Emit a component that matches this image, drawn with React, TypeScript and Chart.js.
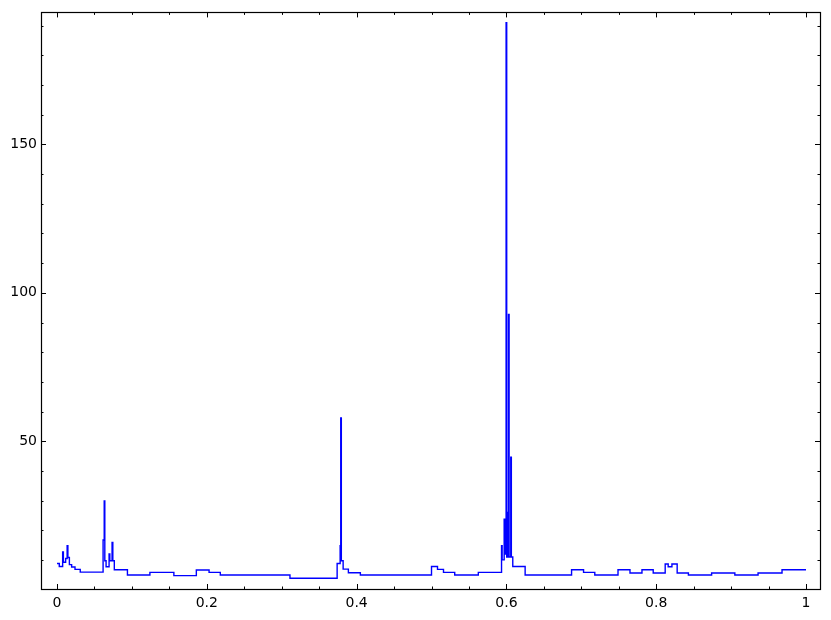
import React, { useEffect, useRef } from "react";
import { Chart, registerables } from "chart.js";

Chart.register(...registerables);

// Bin edges (x) and the step value of each bin
const binEdges: number[] = [
  0, 0.003, 0.0075, 0.0085, 0.0115, 0.0135, 0.0145, 0.0165, 0.0195, 0.024, 0.031,
  0.0615, 0.063, 0.0638, 0.0655, 0.0695, 0.0705, 0.0735, 0.0745, 0.0765, 0.094,
  0.124, 0.156, 0.186, 0.203, 0.218, 0.311, 0.374, 0.378, 0.3788, 0.3796,
  0.382, 0.389, 0.405, 0.5, 0.508, 0.516, 0.531, 0.5625, 0.5935, 0.5943,
  0.597, 0.5978, 0.5996, 0.6004, 0.602, 0.6028, 0.6036, 0.6058, 0.6066, 0.6085,
  0.625, 0.687, 0.703, 0.718, 0.749, 0.765, 0.781, 0.796, 0.812, 0.816,
  0.821, 0.828, 0.843, 0.874, 0.905, 0.936, 0.968, 1.0,
];
const binValues: number[] = [
  8.8, 7.8, 12.7, 9.2, 10.5, 14.8, 10.8, 8.4, 7.6, 6.8,
  5.9, 16.7, 29.9, 9.7, 7.7, 12.0, 9.7, 15.9, 9.7, 6.7,
  4.9, 5.8, 4.7, 6.6, 5.8, 4.9, 3.8, 8.8, 14.8, 57.8,
  9.7, 6.9, 5.7, 4.9, 7.8, 6.8, 5.8, 4.9, 5.8, 14.8,
  10.0, 23.7, 12.0, 191.0, 11.0, 26.0, 92.7, 11.0, 44.6, 11.0,
  7.8, 4.9, 6.7, 5.8, 4.9, 6.7, 5.6, 6.7, 5.6, 8.6,
  7.7, 8.6, 5.6, 4.9, 5.6, 4.9, 5.6, 6.7,
];

const xTickValues: number[] = [0, 0.2, 0.4, 0.6, 0.8, 1];
const xTickLabels: string[] = ["0", "0.2", "0.4", "0.6", "0.8", "1"];
const yTickValues: number[] = [50, 100, 150];
const yTickLabels: string[] = ["50", "100", "150"];
const xMinorStep = 0.05;
const yMinorStep = 10;

const X_MIN = -0.0214;
const X_MAX = 1.0187;
const Y_MIN = 0.2;
const Y_MAX = 194.5;

const FONT = { family: "'DejaVu Sans', sans-serif", size: 14 };

const boxTicksPlugin = {
  id: "boxTicks",
  afterDatasetsDraw(chart: any) {
    const { ctx, chartArea: a, scales } = chart;
    const xs = scales.x;
    const ys = scales.y;
    ctx.save();
    ctx.strokeStyle = "#000";
    ctx.lineWidth = 1;
    const majorLen = 5;
    const minorLen = 2.5;
    const nx = Math.round((X_MAX - X_MIN) / xMinorStep) + 2;
    for (let i = -2; i < nx; i++) {
      const v = +(i * xMinorStep).toFixed(4);
      if (v < X_MIN || v > X_MAX) continue;
      const isMajor = xTickValues.some((t) => Math.abs(t - v) < 1e-6);
      const len = isMajor ? majorLen : minorLen;
      const px = Math.round(xs.getPixelForValue(v)) + 0.5;
      ctx.beginPath();
      ctx.moveTo(px, a.bottom);
      ctx.lineTo(px, a.bottom - len);
      ctx.moveTo(px, a.top);
      ctx.lineTo(px, a.top + len);
      ctx.stroke();
    }
    for (let v = yMinorStep; v <= Y_MAX; v += yMinorStep) {
      const isMajor = yTickValues.includes(v);
      const len = isMajor ? majorLen : minorLen;
      const py = Math.round(ys.getPixelForValue(v)) + 0.5;
      ctx.beginPath();
      ctx.moveTo(a.left, py);
      ctx.lineTo(a.left + len, py);
      ctx.moveTo(a.right, py);
      ctx.lineTo(a.right - len, py);
      ctx.stroke();
    }
    ctx.lineWidth = 1.2;
    ctx.strokeRect(Math.round(a.left) + 0.5, Math.round(a.top) + 0.5, Math.round(a.right - a.left), Math.round(a.bottom - a.top));
    ctx.restore();
  },
};

export default function App() {
  const ref = useRef<HTMLCanvasElement | null>(null);
  useEffect(() => {
    document.body.style.margin = "0";
    const points: { x: number; y: number }[] = binValues.map((v, i) => ({ x: binEdges[i], y: v }));
    points.push({ x: binEdges[binEdges.length - 1], y: binValues[binValues.length - 1] });
    const chart = new Chart(ref.current as HTMLCanvasElement, {
      type: "line",
      data: {
        datasets: [
          {
            data: points,
            stepped: "before",
            borderColor: "#0000ff",
            borderWidth: 1.4,
            pointRadius: 0,
            fill: false,
          },
        ],
      },
      options: {
        animation: false,
        responsive: false,
        parsing: false,
        layout: { padding: { left: 0, right: 11, top: 10, bottom: 0 } },
        plugins: { legend: { display: false }, tooltip: { enabled: false } },
        scales: {
          x: {
            type: "linear",
            min: X_MIN,
            max: X_MAX,
            grid: { display: false, drawTicks: false },
            border: { display: false },
            afterBuildTicks: (s: any) => {
              s.ticks = xTickValues.map((v) => ({ value: v }));
            },
            afterFit: (s: any) => {
              s.height = 31;
            },
            ticks: {
              color: "#000",
              font: FONT,
              padding: 6,
              maxRotation: 0,
              autoSkip: false,
              callback: (v: any) => {
                const i = xTickValues.findIndex((t) => Math.abs(t - v) < 1e-9);
                return i >= 0 ? xTickLabels[i] : "";
              },
            },
          },
          y: {
            type: "linear",
            min: Y_MIN,
            max: Y_MAX,
            grid: { display: false, drawTicks: false },
            border: { display: false },
            afterBuildTicks: (s: any) => {
              s.ticks = yTickValues.map((v) => ({ value: v }));
            },
            afterFit: (s: any) => {
              s.width = 41;
            },
            ticks: {
              color: "#000",
              font: FONT,
              padding: 4,
              autoSkip: false,
              callback: (v: any) => {
                const i = yTickValues.indexOf(v);
                return i >= 0 ? yTickLabels[i] : "";
              },
            },
          },
        },
      },
      plugins: [boxTicksPlugin],
    });
    return () => chart.destroy();
  }, []);
  return (
    <div style={{ width: 831, height: 620, background: "#fff" }}>
      <canvas ref={ref} width={831} height={620} style={{ display: "block" }} />
    </div>
  );
}
